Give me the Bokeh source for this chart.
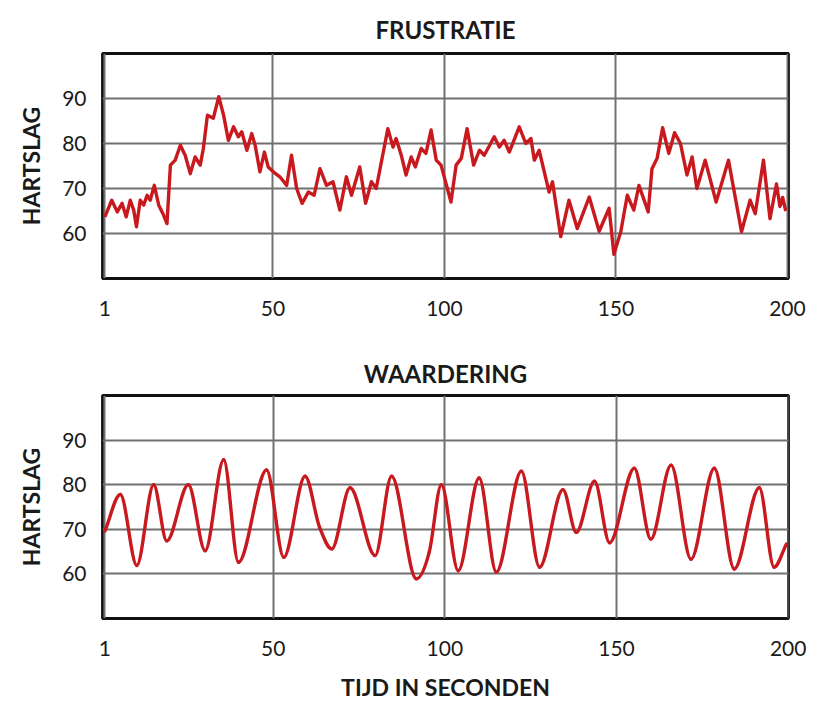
import numpy as np
from bokeh.plotting import figure
from bokeh.layouts import column
from bokeh.models import Range1d, FixedTicker, Title
from bokeh.embed import file_html
from bokeh.resources import INLINE

# ---------------- data ----------------
frustratie_t = [1, 3, 4.6, 6, 7.2, 8.4, 9.4, 10.2, 11.3, 12.3, 13.3, 14.2, 15.4, 16.7, 18.1, 19.1,
                20.1, 21.5, 23, 24.4, 25.9, 27.3, 28.8, 29.7, 30.9, 32.6, 34.2, 35.6, 37, 38.5,
                39.9, 40.9, 42.4, 43.8, 44.8, 46.2, 47.5, 48.6, 50.1, 52, 54, 55.4, 56.9, 58.5,
                60.3, 62, 63.7, 65.6, 67.5, 69.5, 71.4, 72.9, 75.3, 77, 78.7, 80.1, 81.6, 83.5,
                85, 85.9, 87.4, 88.8, 90.3, 91.5, 93.2, 94.6, 96.1, 97.6, 99, 101.9, 103.4,
                104.9, 106.6, 108.5, 110.2, 111.6, 114.5, 116, 117.4, 118.9, 119.9, 121.8, 123.7,
                125.2, 126.2, 127.6, 129.1, 130.5, 131.5, 133.9, 136.3, 138.7, 142.2, 145.1,
                148, 149.4, 151.4, 153.3, 155.2, 156.7, 159.4, 160.5, 162, 163.6, 165.4, 167.1,
                168.8, 170.7, 172.2, 173.6, 176, 179.2, 182.8, 186.6, 189.1, 190.6, 193, 194.9,
                196.8, 197.8, 198.6, 199.5]
frustratie_hr = [63.7, 67.4, 64.8, 66.7, 63.7, 67.4, 65.2, 61.5, 67.4, 66.3, 68.5, 67.4, 70.7, 66.3,
                 64.1, 62.2, 75.2, 76.3, 79.6, 77.4, 73.3, 77, 75.2, 78.9, 86.3, 85.6, 90.4, 86.3,
                 80.7, 83.7, 81.5, 82.6, 78.5, 82.2, 79.6, 73.7, 78.1, 74.8, 73.7, 72.6, 70.7,
                 77.4, 70, 66.7, 69.2, 68.5, 74.4, 70.7, 71.5, 65.2, 72.6, 68.5, 74.8, 66.7, 71.5,
                 70, 75.9, 83.3, 79.2, 81.1, 77.4, 73, 77, 74.8, 78.9, 77.8, 83, 76.3, 75.2, 67,
                 75.2, 76.7, 83.3, 75.2, 78.5, 77.4, 81.5, 79.2, 80.7, 78.1, 80, 83.7, 80, 81.1,
                 76.3, 78.5, 73.7, 69.2, 71.5, 59.3, 67.4, 61.1, 68.1, 60.5, 65.6, 55.4, 60.4,
                 68.5, 65.2, 70.7, 64.8, 74.4, 76.7, 83.5, 77.8, 82.4, 80, 73, 77, 70, 76.3, 67,
                 76.3, 60.4, 67.4, 64.4, 76.3, 63.3, 71, 66, 68, 65]

waardering_t = [1, 5.5, 10.3, 15.2, 19.0, 25.3, 30.2, 35.6, 39.9, 48.1, 53.1, 59.3, 63.5, 67.1,
                72.4, 79.7, 84.5, 91.7, 95.5, 99, 103.9, 110, 115, 122.3, 127.6, 134.4, 138.3,
                143.6, 148, 155.2, 160, 165.9, 171.7, 178.5, 184.3, 191.6, 195.9, 199.5]
waardering_hr = [69.6, 77.8, 61.9, 80, 67.4, 80, 65.2, 85.6, 62.6, 83.3, 63.7, 81.9, 70.5, 65.6,
                 79.3, 64.1, 81.9, 58.9, 65, 80, 60.7, 81.5, 60.4, 83, 61.5, 78.9, 69.3, 80.8,
                 67, 83.7, 67.8, 84.4, 63.3, 83.7, 61.1, 79.3, 61.5, 66.7]

x_ticks = [1, 50, 100, 150, 200]
y_ticks = [60, 70, 80, 90]

# ---------------- style ----------------
FONT = "Lato"
RED = "#c8191f"
GRID = "#707070"
TXT = "#1a1a1a"


def style(p, title, title_standoff, xlabel=None):
    p.title = Title(text=title, align="center", text_font=FONT, text_font_size="24px",
                    text_font_style="bold", text_color=TXT, standoff=title_standoff)
    p.background_fill_color = "white"
    p.border_fill_color = "white"
    p.outline_line_color = "#111111"
    p.outline_line_width = 2.8
    p.xaxis.ticker = FixedTicker(ticks=x_ticks)
    p.yaxis.ticker = FixedTicker(ticks=y_ticks)
    for ax in (p.xaxis[0], p.yaxis[0]):
        ax.axis_line_color = None
        ax.major_tick_line_color = None
        ax.minor_tick_line_color = None
        ax.major_label_text_font = FONT
        ax.major_label_text_font_size = "21px"
        ax.major_label_text_color = TXT
        ax.axis_label_text_font = FONT
        ax.axis_label_text_font_size = "23px"
        ax.axis_label_text_font_style = "bold"
        ax.axis_label_text_color = TXT
    p.xaxis.major_label_standoff = 16
    p.yaxis.major_label_standoff = 10
    p.yaxis.axis_label = "HARTSLAG"
    p.yaxis.axis_label_standoff = 14
    if xlabel:
        p.xaxis.axis_label = xlabel
        p.xaxis.axis_label_standoff = 14
    p.xgrid.grid_line_color = GRID
    p.ygrid.grid_line_color = GRID
    p.xgrid.grid_line_width = 2
    p.ygrid.grid_line_width = 2
    p.grid.level = "underlay"


# top panel
p1 = figure(width=814, height=338, output_backend="svg", toolbar_location=None,
            x_range=Range1d(0.3, 200.3), y_range=Range1d(50, 100),
            min_border_left=102, min_border_right=24, min_border_top=53, min_border_bottom=60)
style(p1, "FRUSTRATIE", 19)
p1.line(frustratie_t, frustratie_hr, line_color=RED, line_width=3.4, line_join="round")

# bottom panel: smooth curve through the read points (monotone cubic Bezier pieces)
p2 = figure(width=814, height=365, output_backend="svg", toolbar_location=None,
            x_range=Range1d(0.3, 200.1), y_range=Range1d(50, 100),
            min_border_left=102, min_border_right=26, min_border_top=57, min_border_bottom=83)
style(p2, "WAARDERING", 16, "TIJD IN SECONDEN")

xs = np.asarray(waardering_t, dtype=float)
ys = np.asarray(waardering_hr, dtype=float)
h = np.diff(xs)
s = np.diff(ys) / h
t = np.zeros(len(xs))
t[0], t[-1] = s[0], s[-1]
for i in range(1, len(xs) - 1):
    if s[i - 1] * s[i] <= 0:
        t[i] = 0.0
    else:
        pm = (s[i - 1] * h[i] + s[i] * h[i - 1]) / (h[i - 1] + h[i])
        t[i] = np.sign(s[i]) * min(abs(s[i - 1]), abs(s[i]), 0.5 * abs(pm)) * 2
p2.bezier(x0=xs[:-1], y0=ys[:-1], x1=xs[1:], y1=ys[1:],
          cx0=xs[:-1] + h / 3, cy0=ys[:-1] + t[:-1] * h / 3,
          cx1=xs[1:] - h / 3, cy1=ys[1:] - t[1:] * h / 3,
          line_color=RED, line_width=3.4, line_cap="round")

layout = column(p1, p2)
open("out.html", "w").write(file_html(layout, INLINE))
